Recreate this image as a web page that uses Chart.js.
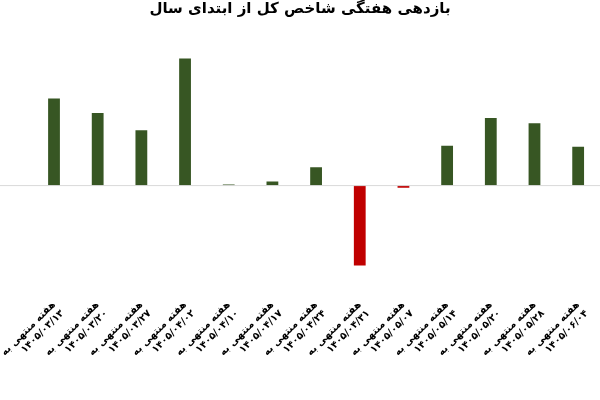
<!DOCTYPE html><html><head><meta charset="utf-8"><script src="https://cdn.jsdelivr.net/npm/chart.js"></script>
<style>body{margin:0;background:#fff}#w{width:600px;height:400px}</style></head><body><div id="w"><canvas id="c"></canvas></div>
<script>
const dates=["۱۴۰۵/۰۳/۱۳","۱۴۰۵/۰۳/۲۰","۱۴۰۵/۰۳/۲۷","۱۴۰۵/۰۴/۰۲","۱۴۰۵/۰۴/۱۰","۱۴۰۵/۰۴/۱۷","۱۴۰۵/۰۴/۲۴","۱۴۰۵/۰۴/۳۱","۱۴۰۵/۰۵/۰۷","۱۴۰۵/۰۵/۱۴","۱۴۰۵/۰۵/۲۰","۱۴۰۵/۰۵/۲۸","۱۴۰۵/۰۶/۰۴"];
const labels=dates.map(d=>["هفته منتهی به",d]);
const values=[85,71,54,124,1,4,18,-78,-2,39,66,61,38];
new Chart(document.getElementById('c'),{type:'bar',data:{labels,datasets:[{data:values,backgroundColor:values.map(v=>v<0?'#c00000':'#375623'),barPercentage:0.27,categoryPercentage:1}]},
options:{responsive:true,maintainAspectRatio:false,animation:false,layout:{padding:{left:0,right:0,top:0}},
plugins:{legend:{display:false},title:{display:true,text:'بازدهی هفتگی شاخص کل از ابتدای سال',font:{family:'DejaVu Sans',size:15,weight:'bold'},color:'#000',padding:{top:0,bottom:14}}},
scales:{y:{display:false,min:-100,max:150,grid:{display:false}},x:{grid:{display:false},border:{display:false},afterFit(s){s.height=112;},ticks:{minRotation:45,maxRotation:45,autoSkip:false,color:'#000',font:{family:'DejaVu Sans',size:10,weight:'bold'}}}}},
plugins:[{id:'z',afterDatasetsDraw(ch){const c=ch.ctx,y=ch.scales.y.getPixelForValue(0);c.save();c.strokeStyle='#d9d9d9';c.beginPath();c.moveTo(0,y);c.lineTo(600,y);c.stroke();c.restore();}}]});
</script></body></html>
